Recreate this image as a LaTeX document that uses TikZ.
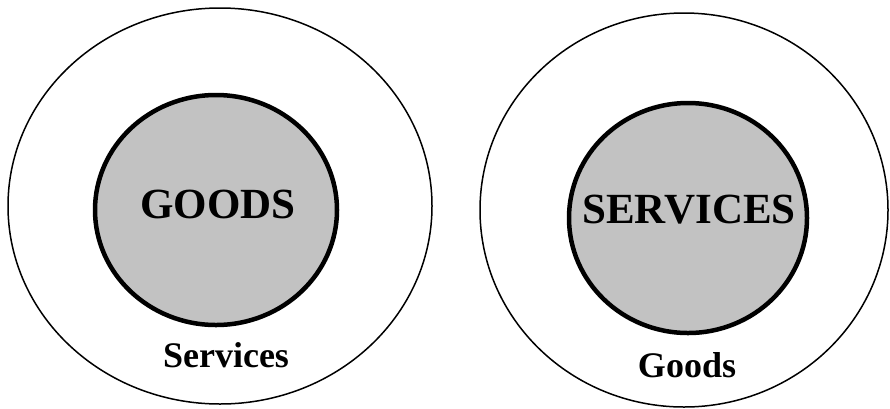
\documentclass[tikz,border=0pt]{standalone}
\usepackage{fontspec}
\setmainfont{Liberation Serif}
\begin{document}
\begin{tikzpicture}[x=1pt,y=-1pt, every node/.style={font=\bfseries},
  outer/.style={draw, line width=1.5pt},
  core/.style={draw, line width=4.5pt, fill=black!24},
  big/.style={font=\bfseries\fontsize{43}{43}\selectfont, anchor=base},
  small/.style={font=\bfseries\fontsize{36}{36}\selectfont, anchor=base}]
\useasboundingbox (0,0) rectangle (890,408);
% left: goods with services around
\draw[outer] (220,206) ellipse [x radius=212, y radius=198];
\draw[core] (216,210) ellipse [x radius=121, y radius=115];
\node[big] (goodsL) at (218,218) {GOODS};
\node[small] (servL) at (226,367) {Services};
% right: services with goods around
\draw[outer] (684,210) ellipse [x radius=204, y radius=197];
\draw[core] (688,218) ellipse [x radius=119, y radius=115];
\node[big] (servR) at (689,223) {SERVICES};
\node[small] (goodsR) at (687,377) {Goods};
\end{tikzpicture}
\end{document}
